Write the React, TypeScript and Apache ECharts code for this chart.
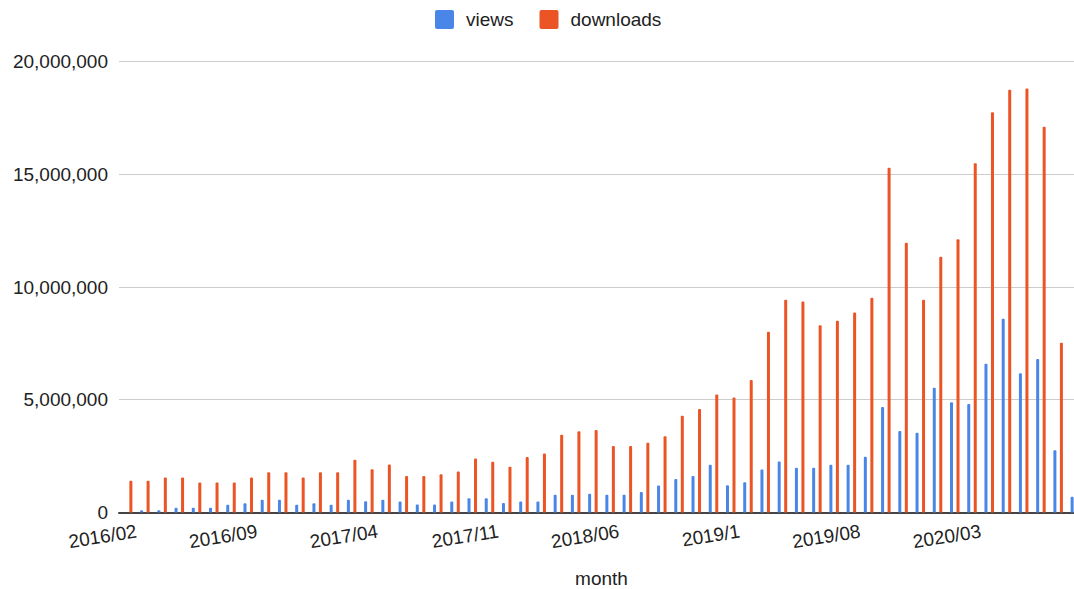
import React, { useEffect, useRef } from "react";
import * as echarts from "echarts";

// Monthly totals, February 2016 to September 2020
const months: string[] = [
  "2016/02", "2016/03", "2016/04", "2016/05", "2016/06", "2016/07", "2016/08", "2016/09", "2016/10", "2016/11", "2016/12",
  "2017/01", "2017/02", "2017/03", "2017/04", "2017/05", "2017/06", "2017/07", "2017/08", "2017/09", "2017/10", "2017/11", "2017/12",
  "2018/01", "2018/02", "2018/03", "2018/04", "2018/05", "2018/06", "2018/07", "2018/08", "2018/09", "2018/10", "2018/11", "2018/12",
  "2019/1", "2019/02", "2019/03", "2019/04", "2019/05", "2019/06", "2019/07", "2019/08", "2019/09", "2019/10", "2019/11", "2019/12",
  "2020/01", "2020/02", "2020/03", "2020/04", "2020/05", "2020/06", "2020/07", "2020/08", "2020/09",
];

const views: number[] = [
  0, 90000, 90000, 210000, 210000, 210000, 340000, 410000, 560000, 560000, 340000,
  410000, 340000, 560000, 490000, 560000, 480000, 350000, 350000, 480000, 630000, 630000, 420000,
  480000, 480000, 780000, 780000, 830000, 780000, 780000, 910000, 1190000, 1480000, 1620000, 2120000,
  1200000, 1340000, 1900000, 2260000, 1980000, 1980000, 2120000, 2120000, 2470000, 4680000, 3610000, 3540000,
  5530000, 4890000, 4810000, 6600000, 8590000, 6170000, 6810000, 2760000, 700000,
];

const downloads: number[] = [
  1400000, 1400000, 1550000, 1550000, 1330000, 1330000, 1330000, 1550000, 1780000, 1780000, 1550000,
  1780000, 1780000, 2340000, 1910000, 2130000, 1620000, 1620000, 1690000, 1820000, 2390000, 2250000, 2030000,
  2460000, 2610000, 3450000, 3600000, 3660000, 2950000, 2950000, 3090000, 3380000, 4290000, 4590000, 5230000,
  5100000, 5880000, 8020000, 9440000, 9360000, 8310000, 8510000, 8870000, 9520000, 15290000, 11970000, 9440000,
  11340000, 12120000, 15490000, 17760000, 18750000, 18810000, 17110000, 7530000, 2100000,
];

const yTicks = { min: 0, max: 20000000, step: 5000000 };

const FONT = "'Liberation Sans', Arial, Helvetica, sans-serif";
const TEXT = "#222222";
const BLUE = "#4a86e8";
const ORANGE = "#eb5424";

const swatch =
  "path://M2,0H17A2,2,0,0,1,19,2V17A2,2,0,0,1,17,19H2A2,2,0,0,1,0,17V2A2,2,0,0,1,2,0Z";

export default function App() {
  const ref = useRef<HTMLDivElement>(null);

  useEffect(() => {
    if (!ref.current) return;
    const chart = echarts.init(ref.current, null, { renderer: "svg" });
    chart.setOption({
      animation: false,
      backgroundColor: "#ffffff",
      textStyle: { fontFamily: FONT },
      legend: {
        data: ["views", "downloads"],
        left: 430,
        top: 5,
        itemWidth: 19,
        itemHeight: 19,
        itemGap: 26,
        icon: swatch,
        textStyle: {
          fontFamily: FONT,
          fontSize: 19,
          color: TEXT,
          padding: [0, 0, 0, 7],
        },
      },
      // The plot runs a little past the right edge, so the last month is cut off.
      grid: {
        left: 119,
        top: 61.7,
        width: 965,
        height: 450.7,
        containLabel: false,
        outerBoundsMode: "none",
      },
      xAxis: {
        type: "category",
        data: months,
        name: "month",
        nameLocation: "middle",
        nameGap: 57,
        nameTextStyle: { fontFamily: FONT, fontSize: 19, color: TEXT },
        axisTick: { show: false },
        axisLine: { show: true, lineStyle: { color: "#444444", width: 2 } },
        splitLine: { show: false },
        axisLabel: {
          interval: 6,
          rotate: 9,
          margin: 20,
          padding: [0, -9, 0, 0],
          fontFamily: FONT,
          fontSize: 19,
          color: TEXT,
        },
      },
      yAxis: {
        type: "value",
        min: yTicks.min,
        max: yTicks.max,
        interval: yTicks.step,
        axisLine: { show: false },
        axisTick: { show: false },
        splitLine: { lineStyle: { color: "#cccccc", width: 1 } },
        axisLabel: {
          margin: 11,
          fontFamily: FONT,
          fontSize: 19,
          color: TEXT,
          formatter: (v: number) => v.toLocaleString("en-US"),
        },
      },
      series: [
        {
          name: "views",
          type: "bar",
          data: views,
          barWidth: 3,
          barGap: "117%",
          itemStyle: { color: BLUE, borderRadius: [1, 1, 0, 0] },
        },
        {
          name: "downloads",
          type: "bar",
          data: downloads,
          barWidth: 3,
          barGap: "117%",
          itemStyle: { color: ORANGE, borderRadius: [1, 1, 0, 0] },
        },
      ],
    });
    return () => chart.dispose();
  }, []);

  return (
    <div
      style={{
        position: "fixed",
        left: 0,
        top: 0,
        width: 1074,
        height: 589,
        overflow: "hidden",
        background: "#ffffff",
      }}
    >
      <div ref={ref} style={{ width: 1074, height: 589 }} />
    </div>
  );
}
